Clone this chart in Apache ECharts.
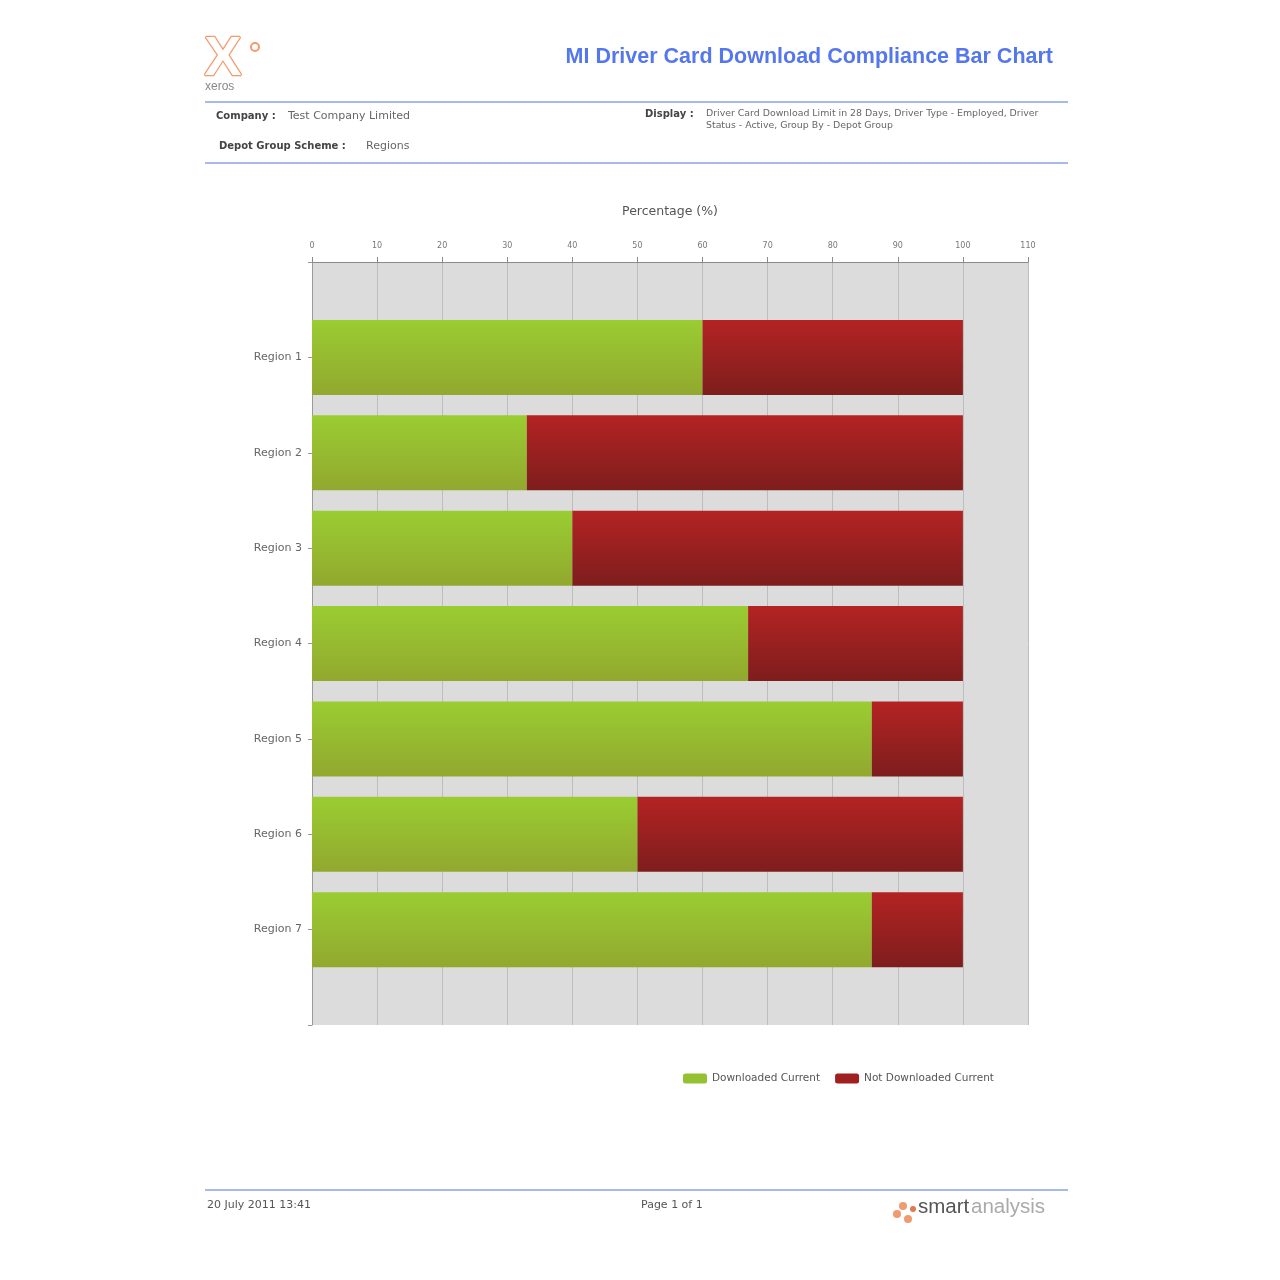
<!DOCTYPE html>
<html>
<head>
<meta charset="utf-8">
<script src="https://cdn.jsdelivr.net/npm/echarts@6/dist/echarts.min.js"></script>
<style>html,body{margin:0;padding:0;background:#fff;}#c{width:1280px;height:1280px;}</style>
</head>
<body>
<div id="c"></div>
<script>
var categories = ['', 'Region 1', 'Region 2', 'Region 3', 'Region 4', 'Region 5', 'Region 6', 'Region 7', ''];
var downloaded = [null, 60, 33, 40, 67, 86, 50, 86, null];
var notDownloaded = [null, 40, 67, 60, 33, 14, 50, 14, null];
var xTicks = [0, 10, 20, 30, 40, 50, 60, 70, 80, 90, 100, 110];

var chart = echarts.init(document.getElementById('c'));
var greenGrad = new echarts.graphic.LinearGradient(0, 0, 0, 1, [
  {offset: 0, color: '#9acd32'}, {offset: 1, color: '#92a82f'}]);
var redGrad = new echarts.graphic.LinearGradient(0, 0, 0, 1, [
  {offset: 0, color: '#b42323'}, {offset: 1, color: '#7e1d1d'}]);
var font = 'DejaVu Sans, sans-serif';
var tfont = 'Liberation Sans, Arial, sans-serif';
chart.setOption({
  backgroundColor: '#ffffff',
  animation: false,
  textStyle: {fontFamily: font},
  grid: {left: 312, right: 252, top: 262, bottom: 255, show: true, backgroundColor: '#dcdcdc', borderWidth: 0},
  xAxis: {
    type: 'value', position: 'top', min: 0, max: 110, interval: 10,
    name: 'Percentage (%)', nameLocation: 'middle', nameGap: 44,
    nameTextStyle: {fontSize: 12.5, color: '#555', fontFamily: font},
    axisLine: {show: true, lineStyle: {color: '#8a8a8a'}},
    axisTick: {show: true, length: 5, lineStyle: {color: '#8a8a8a'}},
    axisLabel: {fontSize: 8, color: '#777', margin: 12, fontFamily: font, formatter: function (v) { return xTicks.indexOf(v) >= 0 ? String(v) : ''; }},
    splitLine: {show: true, lineStyle: {color: '#bdbdbd', width: 1}}
  },
  yAxis: {
    type: 'category', data: categories, inverse: true, boundaryGap: false,
    axisLine: {show: true, lineStyle: {color: '#9a9a9a'}},
    axisTick: {show: true, length: 4, lineStyle: {color: '#9a9a9a'}},
    axisLabel: {fontSize: 11, color: '#666', margin: 10, fontFamily: font},
    splitLine: {show: false}
  },
  legend: {
    left: 678, top: 1068, itemWidth: 24, itemHeight: 10, itemGap: 15,
    textStyle: {fontSize: 10.5, color: '#555', fontFamily: font},
    data: [{name: 'Downloaded Current', itemStyle: {color: '#94c12f'}}, {name: 'Not Downloaded Current', itemStyle: {color: '#a01f1f'}}]
  },
  series: [
    {name: 'Downloaded Current', type: 'bar', stack: 'a', barWidth: 75, data: downloaded, itemStyle: {color: greenGrad}},
    {name: 'Not Downloaded Current', type: 'bar', stack: 'a', barWidth: 75, data: notDownloaded, itemStyle: {color: redGrad}}
  ],
  graphic: [
    {type: 'text', right: 227, top: 46, style: {text: 'MI Driver Card Download Compliance Bar Chart', fontSize: 21.5, fontWeight: 'bold', fill: '#5577ee', fontFamily: tfont}},
    {type: 'line', shape: {x1: 205, y1: 102, x2: 1068, y2: 102}, style: {stroke: '#a9b9f0', lineWidth: 2}},
    {type: 'line', shape: {x1: 205, y1: 163, x2: 1068, y2: 163}, style: {stroke: '#a9b9f0', lineWidth: 2}},
    {type: 'line', shape: {x1: 205, y1: 1190, x2: 1068, y2: 1190}, style: {stroke: '#a9b9f0', lineWidth: 2}},
    {type: 'text', left: 216, top: 111, style: {text: 'Company :', fontSize: 10, fontWeight: 'bold', fill: '#444', fontFamily: font}},
    {type: 'text', left: 288, top: 111, style: {text: 'Test Company Limited', fontSize: 11, fill: '#666', fontFamily: font}},
    {type: 'text', left: 219, top: 141, style: {text: 'Depot Group Scheme :', fontSize: 10, fontWeight: 'bold', fill: '#444', fontFamily: font}},
    {type: 'text', left: 366, top: 141, style: {text: 'Regions', fontSize: 11, fill: '#666', fontFamily: font}},
    {type: 'text', left: 645, top: 109, style: {text: 'Display :', fontSize: 10, fontWeight: 'bold', fill: '#444', fontFamily: font}},
    {type: 'text', left: 706, top: 108, style: {text: 'Driver Card Download Limit in 28 Days, Driver Type - Employed, Driver\nStatus - Active, Group By - Depot Group', fontSize: 9.4, lineHeight: 12, fill: '#666', fontFamily: font}},
    {type: 'text', left: 207, top: 1200, style: {text: '20 July 2011 13:41', fontSize: 11, fill: '#555', fontFamily: font}},
    {type: 'text', left: 641, top: 1200, style: {text: 'Page 1 of 1', fontSize: 11, fill: '#555', fontFamily: font}},
    // logo top-left
    {type: 'text', left: 203, top: 30, style: {text: 'X', fontSize: 56, fontWeight: 'bold', fill: '#ffffff', stroke: '#f39a6e', lineWidth: 2.5, fontFamily: tfont}},
    {type: 'circle', shape: {cx: 255, cy: 47, r: 4}, style: {fill: '#ffffff', stroke: '#f39a6e', lineWidth: 2}},
    {type: 'text', left: 205, top: 81, style: {text: 'xeros', fontSize: 12, fill: '#888', fontFamily: tfont}},
    // smartanalysis logo
    {type: 'circle', shape: {cx: 903, cy: 1206, r: 4}, style: {fill: '#f09a70'}},
    {type: 'circle', shape: {cx: 897, cy: 1214, r: 4}, style: {fill: '#f09a70'}},
    {type: 'circle', shape: {cx: 908, cy: 1219, r: 4}, style: {fill: '#f09a70'}},
    {type: 'circle', shape: {cx: 913, cy: 1209, r: 3}, style: {fill: '#e07850'}},
    {type: 'text', left: 918, top: 1197, style: {text: 'smart', fontSize: 20.5, fill: '#555', fontFamily: tfont}},
    {type: 'text', left: 971, top: 1197, style: {text: 'analysis', fontSize: 20.5, fill: '#aaa', fontFamily: tfont}}
  ]
});
</script>
</body>
</html>
